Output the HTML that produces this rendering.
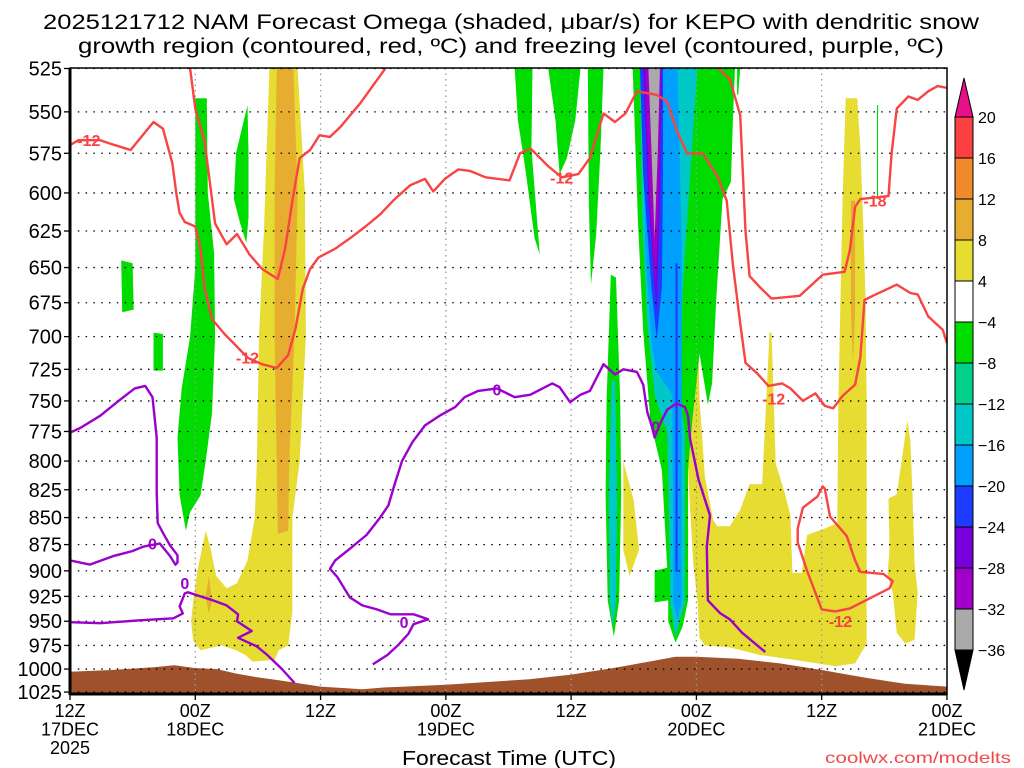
<!DOCTYPE html>
<html><head><meta charset="utf-8"><title>NAM Omega KEPO</title>
<style>
html,body{margin:0;padding:0;background:#fff;}
svg{display:block;font-family:"Liberation Sans","DejaVu Sans",sans-serif;}
</style></head>
<body>
<svg id="chart" width="1024" height="768" viewBox="0 0 1024 768" xmlns="http://www.w3.org/2000/svg">
<rect width="1024" height="768" fill="#fff"/>
<text x="511" y="29" font-size="21" text-anchor="middle" textLength="936" lengthAdjust="spacingAndGlyphs">2025121712 NAM Forecast Omega (shaded, μbar/s) for KEPO with dendritic snow</text>
<text x="511" y="53" font-size="21" text-anchor="middle" textLength="866" lengthAdjust="spacingAndGlyphs">growth region (contoured, red, ºC) and freezing level (contoured, purple, ºC)</text>
<defs><clipPath id="plotclip"><rect x="70" y="68" width="877" height="627"/></clipPath></defs>
<g id="shading" clip-path="url(#plotclip)"></g>
<g id="terrain" clip-path="url(#plotclip)"></g>
<g id="grid" clip-path="url(#plotclip)"></g>
<g id="contours" clip-path="url(#plotclip)"></g>
<g id="axes"></g>
<g id="colorbar"></g>
<text x="509" y="765" font-size="20" text-anchor="middle" textLength="214" lengthAdjust="spacingAndGlyphs">Forecast Time (UTC)</text>
<text x="1011" y="763" font-size="16" text-anchor="end" fill="#f04848" textLength="186" lengthAdjust="spacingAndGlyphs">coolwx.com/modelts</text>
</svg>
<script>
// ---- data ----
const pressureTicks = [525,550,575,600,625,650,675,700,725,750,775,800,825,850,875,900,925,950,975,1000,1025];
const timeTickHours = [0,12,24,36,48,60,72,84];
const timeTickLabels = [["12Z","17DEC","2025"],["00Z","18DEC"],["12Z"],["00Z","19DEC"],["12Z"],["00Z","20DEC"],["12Z"],["00Z","21DEC"]];
const colorbarLabels = ["20","16","12","8","4","-4","-8","-12","-16","-20","-24","-28","-32","-36"];
const colorbarColors = ["#fa4040","#f08a2c","#e6ad30","#e6dc32","#ffffff","#00dc00","#00d28c","#00c8c8","#00a0ff","#1e3cff","#7800dc","#a000c8","#aaaaaa"];
const terrainHours = [0,4,8,10,12,14,16,18,20,24,28,30,32,36,40,44,48,52,56,58,60,64,68,72,76,80,84];
const terrainPressure = [1003,1001,998,996,999,1000,1005,1009,1012,1019,1022,1020,1019,1017,1014,1011,1006,999,991,987,987,989,994,1001,1009,1016,1019];
// shaded omega areas: color, then [hour, pressure] vertices
const shadeColor = {g:"#00dc00",sg:"#00d28c",t:"#00c8c8",lb:"#00a0ff",b:"#1e3cff",p:"#7800dc",m:"#a000c8",gr:"#aaaaaa",y:"#e6dc32",o:"#e6ad30"};
const shadeKeys = ["g","g","g","g","y","o","o","g","g","g","g","t","g","y","y","o","y","g","t","lb","b","b","p","m","gr","g"];
const shadeAreas = [
 [[4.9,645],[6.0,647],[6.1,680],[5.0,682]],
 [[8.0,697],[8.9,698],[8.9,726],[8.0,726]],
 [[12.0,542],[13.1,542],[13.2,600],[13.8,640],[13.9,700],[13.6,760],[13.0,800],[12.5,830],[11.5,845],[11.1,862],[10.5,830],[10.3,780],[10.7,740],[11.5,700],[12.0,650]],
 [[17.0,546],[17.1,575],[17.1,616],[16.9,633],[16.3,620],[15.7,604],[15.9,575]],
 [[19.1,525],[21.8,525],[22.5,600],[22.6,700],[22.0,800],[21.3,850],[21.3,940],[20.9,975],[20.0,980],[19.6,990],[17.5,992],[16.8,985],[15.9,980],[14.5,975],[12.5,980],[11.8,970],[11.6,950],[11.8,930],[12.2,900],[13.0,862],[13.5,880],[14.0,905],[15.0,917],[16.0,912],[17.0,890],[17.7,850],[17.9,800],[18.1,700],[18.6,620]],
 [[19.8,525],[21.4,525],[21.8,600],[21.5,700],[21.0,800],[20.9,862],[19.9,865],[19.8,800],[19.6,700],[19.6,600]],
 [[13.3,905],[13.6,930],[13.3,942],[13.0,925]],
 [[42.6,525],[44.3,525],[44.2,572],[45.0,641],[44.5,630],[43.6,584],[42.9,555]],
 [[45.8,525],[48.9,525],[48.4,555],[47.6,578],[46.9,588],[46.5,555]],
 [[49.6,525],[51.1,525],[50.8,574],[50.4,627],[49.9,662],[49.7,608]],
 [[51.8,655],[52.3,657],[52.7,749],[52.8,829],[52.6,929],[52.1,966],[51.5,929],[51.3,829],[51.4,749]],
 [[51.9,734],[52.2,734],[52.4,829],[52.3,929],[52.0,955],[51.7,929],[51.6,829]],
 [[77.3,546],[77.4,546],[77.4,604],[77.3,604]],
 [[59.2,711],[60.2,708],[60.3,749],[60.6,786],[60.8,813],[61.6,852],[62.0,858],[63.2,858],[64.2,843],[65.1,820],[66.3,820],[66.7,749],[67.0,697],[67.2,697],[67.4,749],[67.6,802],[68.5,829],[69.0,848],[69.2,902],[70.1,902],[70.6,866],[72.3,860],[73.5,855],[73.6,749],[73.8,672],[74.0,604],[74.3,542],[75.4,542],[75.7,571],[76.0,623],[76.2,672],[76.3,749],[76.3,829],[76.3,973],[75.2,994],[73.3,997],[69.9,991],[66.1,985],[63.2,977],[60.8,975],[60.3,967],[60.1,929],[59.7,893],[59.4,843],[59.2,806],[59.2,767]],
 [[80.2,766],[80.5,783],[80.7,829],[80.9,894],[81.2,921],[80.9,969],[80.0,973],[79.2,962],[78.8,921],[78.3,905],[78.5,879],[78.4,833],[79.2,829],[79.8,791]],
 [[74.8,605],[75.2,605],[75.2,680],[75.0,720],[74.8,680]],
 [[53.0,800],[54.0,835],[54.5,880],[53.6,905],[53.0,880]],
 [[53.9,525],[63.7,525],[63.5,555],[63.3,593],[62.5,604],[61.9,673],[61.5,736],[61.1,753],[60.3,713],[59.6,767],[59.2,808],[59.2,929],[58.7,955],[58.0,972],[57.3,950],[57.3,929],[56.0,931],[56.0,900],[57.2,897],[56.7,808],[55.6,767],[54.9,696],[54.4,618]],
 [[54.6,525],[60.1,525],[59.4,589],[58.7,664],[58.4,745],[58.9,776],[58.9,931],[58.0,966],[57.5,931],[57.3,810],[57.2,776],[56.0,745],[55.3,691],[54.8,614]],
 [[54.8,525],[58.2,525],[58.6,637],[58.6,931],[58.2,948],[57.8,931],[57.7,745],[56.2,727],[55.7,705],[55.1,637]],
 [[54.6,525],[56.8,525],[56.8,589],[56.7,664],[56.2,702],[55.7,664],[54.9,589]],
 [[58.0,647],[58.2,647],[58.2,901],[58.0,901]],
 [[54.9,525],[56.7,525],[56.5,604],[56.2,683],[55.4,604]],
 [[55.1,525],[56.6,525],[56.4,604],[56.1,662],[55.5,604]],
 [[55.4,525],[56.5,525],[56.3,574],[56.0,630],[55.7,574]],
 [[63.9,525],[64.2,525],[64.0,540],[63.9,540]]
];
// red -12 contours
const redLineA = [[0,570],[0.8,567],[2.9,567],[3.8,569],[5.8,573],[8.0,556],[8.9,560],[9.8,581],[10.2,601],[10.5,613],[11.0,619],[12.0,622],[12.5,637],[12.9,665],[13.6,687],[14.8,698],[15.8,706],[17.0,716],[18.4,721],[19.8,724],[20.9,714],[21.6,694],[22.3,665],[23.0,651],[23.8,643],[25.4,637],[26.8,630],[28.3,622],[29.7,614],[31.1,604],[32.6,595],[34.0,591],[34.8,599],[35.9,591],[37.2,585],[38.3,586],[39.8,590],[42.1,592],[43.1,575],[44.1,572],[45.8,583],[47.1,590],[48.7,588],[49.8,578],[51.1,551],[52.2,556],[53.2,551],[54.3,538],[56.2,540],[57.2,544],[58.1,561],[59.1,575],[60.6,575],[62.0,589],[62.9,605],[63.5,648],[64.2,690],[64.7,720],[65.8,728],[66.9,738],[68.2,736],[69.0,740],[70.2,750],[71.4,744],[72.3,754],[73.1,756],[74.0,746],[75.2,737],[75.7,716],[76.1,673],[76.9,670],[79.2,662],[80.5,668],[81.2,669],[82.2,685],[83.6,695],[84,705]];
const redLineB = [[11.5,525],[12.0,548],[12.9,568],[13.9,620],[15.0,634],[16.0,627],[17.2,641],[18.4,651],[19.9,658],[20.6,637],[21.3,605],[22.0,578],[23.0,573],[23.9,564],[24.9,565],[25.9,559],[27.8,545],[30.2,525]];
const redLineC = [[62.1,525],[63.2,531],[64.2,552],[64.7,625],[65.1,656],[66.1,664],[67.2,672],[69.9,670],[72.1,655],[74.2,653],[74.7,638],[75.2,609],[75.7,604],[78.4,602],[78.7,575],[79.2,548],[80.3,541],[81.2,543],[82.2,538],[83.1,535],[84,536]];
const redLineD = [[73.3,940],[72.0,938],[70.6,900],[69.7,873],[69.7,860],[70.2,841],[71.6,831],[72.1,822],[72.3,824],[72.8,849],[74.4,867],[75.2,890],[75.7,901],[77.9,903],[78.8,910],[78.5,917],[74.7,937],[73.3,940]];
// purple 0C contours
const purpleLine1 = [[0,776],[1.0,772],[2.9,762],[4.8,749],[6.2,740],[7.2,738],[7.9,747],[8.3,780],[8.3,828],[8.4,855],[8.9,864],[9.6,876],[10.3,885],[10.3,892],[10.1,894],[9.6,886],[8.6,874],[7.0,877],[6.0,881],[4.1,886],[1.9,894],[0,890]];
const purpleLine2 = [[0,951],[2.9,952],[6.7,949],[9.9,947],[10.8,942],[10.5,935],[11.0,922],[11.3,921],[12.5,925],[13.7,929],[15.0,934],[16.1,943],[16.0,950],[17.4,960],[16.1,967],[17.9,976],[18.9,985],[20.3,1000],[21.5,1015]];
const purpleLine3 = [[29.0,995],[30.4,985],[31.4,975],[32.4,963],[32.9,953],[34.3,948],[32.9,943],[30.7,943],[29.4,938],[28.0,934],[26.8,926],[25.6,906],[24.9,898],[25.4,890],[26.8,879],[28.4,866],[29.7,850],[30.5,839],[31.1,820],[31.8,800],[32.8,784],[34.0,770],[35.4,762],[36.9,755],[37.8,747],[39.1,742],[40.9,740],[42.6,747],[44.1,745],[45.5,739],[46.2,736],[46.9,739],[47.9,751],[48.9,745],[49.8,742],[51.1,721],[52.2,729],[53.0,725],[54.3,727],[54.9,737],[55.3,759],[55.7,770],[56.0,780],[56.5,769],[57.2,757],[58.1,752],[58.9,755],[59.2,762],[59.4,781],[60.2,816],[61.3,848],[61.0,877],[61.1,929],[62.3,942],[63.2,948],[64.4,962],[66.6,982]];
const redLabels = [["-12",1.8,567],["-12",17.0,716],["-12",47.1,590],["-12",67.4,748],["-18",77.1,605],["-12",73.8,950]];
const purpleLabels = [["0",7.9,874],["0",11.0,912],["0",32.0,951],["0",40.9,741],["0",56.1,771]];

// ---- axes ----
const X0=70, XPH=10.44, Y0=68.5, YK=932;
function xs(h){return X0+h*XPH;}
function ys(p){return Y0+YK*Math.log(p/525);}
const NS="http://www.w3.org/2000/svg";
function mk(tag,attrs,parent){const e=document.createElementNS(NS,tag);for(const k in attrs)e.setAttribute(k,attrs[k]);parent.appendChild(e);return e;}
const pts=arr=>arr.map(d=>xs(d[0]).toFixed(1)+","+ys(d[1]).toFixed(1)).join(" ");

const gS=document.getElementById("shading");
shadeAreas.forEach((poly,i)=>{
  const e=mk("polygon",{points:pts(poly),fill:shadeColor[shadeKeys[i]]},gS);
  
  
});

const gT=document.getElementById("terrain");
const tp=terrainHours.map((h,i)=>[h,terrainPressure[i]]);
const terr=mk("polygon",{points:pts(tp)+" "+xs(84)+",700 "+xs(0)+",700",fill:"#a0522d"},gT);



const gG=document.getElementById("grid");
pressureTicks.forEach(p=>{
  const l=mk("line",{x1:70,x2:947,y1:ys(p),y2:ys(p),stroke:"#000","stroke-width":1.3,"stroke-dasharray":"1.5,6.3"},gG);
  
  
});
timeTickHours.slice(1,-1).forEach(h=>{
  const l=mk("line",{x1:xs(h),x2:xs(h),y1:68,y2:694,stroke:"#999","stroke-width":1.3,"stroke-dasharray":"1.5,4"},gG);
  
  
});

const gC=document.getElementById("contours");
[[redLineA,"#f84444"],[redLineB,"#f84444"],[redLineC,"#f84444"],[redLineD,"#f84444"],[purpleLine1,"#9c00cc"],[purpleLine2,"#9c00cc"],[purpleLine3,"#9c00cc"]].forEach((c,i)=>{
  const e=mk("polyline",{points:pts(c[0]),fill:"none",stroke:c[1],"stroke-width":2.4,"stroke-linejoin":"round"},gC);
  
  
});
redLabels.forEach(l=>{
  const t=mk("text",{x:xs(l[1]),y:ys(l[2])+6,"font-size":16,"font-weight":"bold",fill:"#f84444","text-anchor":"middle"},gC);
  t.textContent=l[0];
  
  
});
purpleLabels.forEach(l=>{
  const t=mk("text",{x:xs(l[1]),y:ys(l[2])+6,"font-size":16,"font-weight":"bold",fill:"#9c00cc","text-anchor":"middle"},gC);
  t.textContent=l[0];
  
  
});

const gA=document.getElementById("axes");
const fr=mk("rect",{x:70,y:68,width:877,height:626,fill:"none",stroke:"#000","stroke-width":1.5},gA);


mk("line",{x1:70,x2:70,y1:68,y2:695,stroke:"#000","stroke-width":3},gA);
mk("line",{x1:70,x2:947,y1:694,y2:694,stroke:"#000","stroke-width":3},gA);
pressureTicks.forEach(p=>{
  mk("line",{x1:64,x2:70,y1:ys(p),y2:ys(p),stroke:"#000","stroke-width":1.3},gA);
  const t=mk("text",{x:62,y:ys(p)+7,"font-size":20,"text-anchor":"end"},gA);
  t.textContent=String(p);
  
  
});
timeTickHours.forEach((h,i)=>{
  mk("line",{x1:xs(h),x2:xs(h),y1:694,y2:700,stroke:"#000","stroke-width":1.3},gA);
  timeTickLabels[i].forEach((s,j)=>{
    const t=mk("text",{x:xs(h),y:717+j*18.5,"font-size":18,"text-anchor":"middle"},gA);
    t.textContent=s;
    
    
  });
});

const gB=document.getElementById("colorbar");
const cbX=955, cbW=18, cbTop=117, cbH=41;
const up=mk("polygon",{points:`${cbX},${cbTop} ${cbX+cbW},${cbTop} ${cbX+cbW/2},78`,fill:"#e8108a",stroke:"#000","stroke-width":1},gB);


colorbarColors.forEach((c,i)=>{
  const r=mk("rect",{x:cbX,y:cbTop+i*cbH,width:cbW,height:cbH,fill:c,stroke:"#000","stroke-width":1},gB);
  
  
});
const cbBot=cbTop+colorbarColors.length*cbH;
const dn=mk("polygon",{points:`${cbX},${cbBot} ${cbX+cbW},${cbBot} ${cbX+cbW/2},690`,fill:"#000",stroke:"#000","stroke-width":1},gB);


colorbarLabels.forEach((s,i)=>{
  const t=mk("text",{x:978,y:cbTop+i*cbH+6,"font-size":16},gB);
  t.textContent=s.replace("-","−");
  
  
});
</script>
</body></html>
